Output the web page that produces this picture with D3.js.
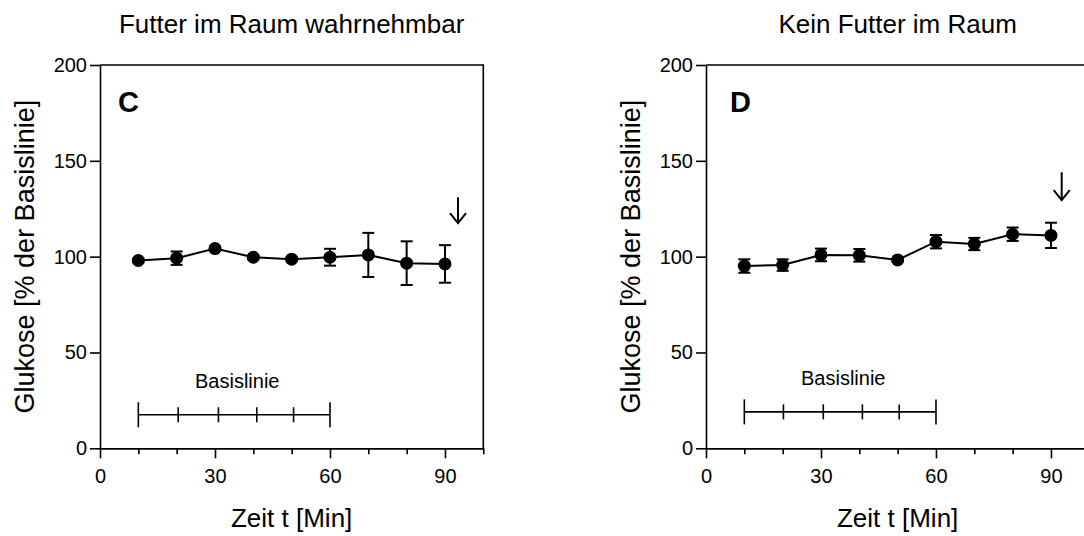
<!DOCTYPE html>
<html>
<head>
<meta charset="utf-8">
<script src="https://cdn.jsdelivr.net/npm/d3@7"></script>
<style>
  html, body { margin: 0; padding: 0; background: #fff; }
  svg { display: block; font-family: "Liberation Sans", Arial, sans-serif; }
</style>
</head>
<body>
<svg id="chart" width="1084" height="536"></svg>
<script>
// ---- Data ----
const timeMin = [10, 20, 30, 40, 50, 60, 70, 80, 90];
const glucoseC = [98.0, 99.2, 104.2, 99.7, 98.7, 99.7, 100.9, 96.6, 96.2];
const errorC   = [1.0, 3.5, 1.2, 1.0, 1.0, 4.4, 11.5, 11.4, 9.8];
const glucoseD = [95.1, 95.6, 100.9, 100.7, 98.3, 107.8, 106.6, 111.7, 111.1];
const errorD   = [3.5, 3.0, 3.3, 3.3, 1.0, 3.5, 3.2, 3.5, 6.6];

const titles = ["Futter im Raum wahrnehmbar", "Kein Futter im Raum"];
const panelLetters = ["C", "D"];
const yTickValues = [0, 50, 100, 150, 200];
const xMajorTicks = [0, 30, 60, 90];
const xMinorTicks = [10, 20, 40, 50, 70, 80, 100];
const xLabel = "Zeit t [Min]";
const yLabel = "Glukose [% der Basislinie]";
const baselineLabel = "Basislinie";
const baselineTicksC = [10, 20.4, 30.9, 40.9, 50.5, 60];
const baselineTicksD = [10, 20.2, 30.6, 40.8, 50.4, 60];
const baselineLevel = [17.5, 19];
const arrowX = [93.4, 92.8];
const arrowTop = [131, 144];
const arrowBottom = [117.5, 129.5];

const panels = [
  { series: glucoseC, errs: errorC, bTicks: baselineTicksC, left: 100, letterDx: 18 },
  { series: glucoseD, errs: errorD, bTicks: baselineTicksD, left: 706, letterDx: 24 }
];

const svg = d3.select("#chart");
svg.append("rect").attr("width", 1084).attr("height", 536).attr("fill", "#fff");

panels.forEach((p, i) => {
  const x = d3.scaleLinear().domain([0, 100]).range([p.left, p.left + 383.3]);
  const y = d3.scaleLinear().domain([0, 200]).range([448.3, 65]);
  const g = svg.append("g");

  // Frame (top and right)
  g.append("path")
    .attr("d", `M${x(0)},${y(200)}H${x(100)}V${y(0)}`)
    .attr("fill", "none").attr("stroke", "#000").attr("stroke-width", 1.6);

  // Y axis
  const ya = g.append("g").attr("transform", `translate(${x(0)},0)`)
    .call(d3.axisLeft(y).tickValues(yTickValues).tickSize(10).tickSizeOuter(0).tickPadding(3));
  // X axis major
  const xa = g.append("g").attr("transform", `translate(0,${y(0)})`)
    .call(d3.axisBottom(x).tickValues(xMajorTicks).tickSize(10).tickSizeOuter(0).tickPadding(11));
  // X axis minor
  const xm = g.append("g").attr("transform", `translate(0,${y(0)})`)
    .call(d3.axisBottom(x).tickValues(xMinorTicks).tickSize(6).tickSizeOuter(0).tickFormat(""));
  [ya, xa, xm].forEach(a => {
    a.selectAll("path, line").attr("stroke", "#000").attr("stroke-width", 1.6);
    a.selectAll("text").attr("fill", "#000").style("font-size", "20px")
      .style("font-family", "'Liberation Sans', Arial, sans-serif");
  });

  // Titles and labels
  const cx = (x(0) + x(100)) / 2;
  g.append("text").attr("x", cx).attr("y", 33).attr("text-anchor", "middle")
    .style("font-size", "26px").text(titles[i]);
  g.append("text").attr("x", cx).attr("y", 527).attr("text-anchor", "middle")
    .style("font-size", "26px").text(xLabel);
  g.append("text").attr("transform", `translate(${x(0) - 66},${(y(0) + y(200)) / 2}) rotate(-90)`)
    .attr("text-anchor", "middle").style("font-size", "27px").text(yLabel);
  g.append("text").attr("x", x(0) + p.letterDx).attr("y", 112)
    .style("font-size", "29px").style("font-weight", "bold").text(panelLetters[i]);

  // Baseline bracket
  const bl = baselineLevel[i];
  g.append("line").attr("x1", x(p.bTicks[0])).attr("x2", x(p.bTicks[p.bTicks.length - 1]))
    .attr("y1", y(bl)).attr("y2", y(bl)).attr("stroke", "#000").attr("stroke-width", 1.6);
  g.selectAll(".btick").data(p.bTicks).enter().append("line")
    .attr("x1", d => x(d)).attr("x2", d => x(d))
    .attr("y1", (d, j) => y(bl) - ((j === 0 || j === p.bTicks.length - 1) ? 12.5 : 7.5))
    .attr("y2", (d, j) => y(bl) + ((j === 0 || j === p.bTicks.length - 1) ? 12.5 : 7.5))
    .attr("stroke", "#000").attr("stroke-width", 1.6);
  g.append("text").attr("x", x(35.8)).attr("y", y(bl) - 27).attr("text-anchor", "middle")
    .style("font-size", "20px").text(baselineLabel);

  // Data
  const pts = timeMin.map((t, j) => ({ t, v: p.series[j], e: p.errs[j] }));
  // Error bars
  const eb = g.append("g").attr("stroke", "#000").attr("stroke-width", 2);
  pts.forEach(d => {
    eb.append("line").attr("x1", x(d.t)).attr("x2", x(d.t))
      .attr("y1", y(d.v - d.e)).attr("y2", y(d.v + d.e));
    [d.v - d.e, d.v + d.e].forEach(val => {
      eb.append("line").attr("x1", x(d.t) - 6).attr("x2", x(d.t) + 6)
        .attr("y1", y(val)).attr("y2", y(val));
    });
  });
  // Line
  g.append("path").datum(pts)
    .attr("d", d3.line().x(d => x(d.t)).y(d => y(d.v)))
    .attr("fill", "none").attr("stroke", "#000").attr("stroke-width", 2);
  // Dots
  g.selectAll(".dot").data(pts).enter().append("circle")
    .attr("cx", d => x(d.t)).attr("cy", d => y(d.v)).attr("r", 6.5).attr("fill", "#000");

  // Arrow
  const ax = x(arrowX[i]), at = y(arrowTop[i]), ab = y(arrowBottom[i]);
  g.append("path")
    .attr("d", `M${ax},${at}V${ab}M${ax - 8},${ab - 10}L${ax},${ab}L${ax + 8},${ab - 10}`)
    .attr("fill", "none").attr("stroke", "#000").attr("stroke-width", 2);
});
</script>
</body>
</html>
